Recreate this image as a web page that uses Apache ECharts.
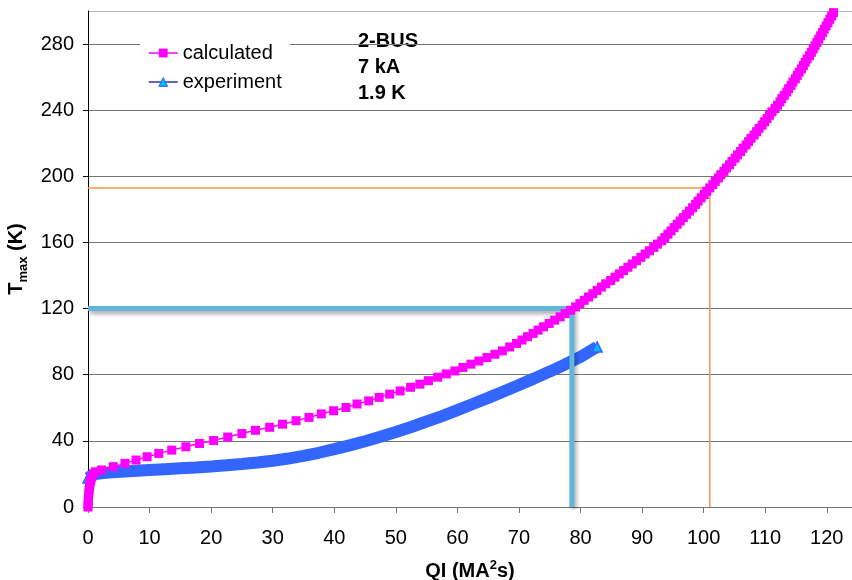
<!DOCTYPE html>
<html>
<head>
<meta charset="utf-8">
<title>2-BUS Tmax vs QI</title>
<script src="https://cdn.jsdelivr.net/npm/echarts@6.0.0/dist/echarts.min.js"></script>
<style>
  html, body { margin: 0; padding: 0; background: #fff; }
  #main { width: 852px; height: 580px; }
</style>
</head>
<body>
<div id="main"></div>
<script>
// calculated curve (QI in MA^2s, Tmax in K)
var calcQI = [0, 0.02, 0.05, 0.08, 0.12, 0.17, 0.24, 0.33, 0.45, 0.62, 0.85, 1.2, 2.2,
  4.1, 6.0, 7.8, 9.6, 11.5, 13.6, 15.9, 18.1, 20.4, 22.7, 25.0, 27.2, 29.5, 31.6, 33.8,
  35.9, 37.9, 39.9, 41.9, 43.7, 45.6, 47.3, 49.0, 50.7, 52.4, 53.9, 55.3, 56.8, 58.2,
  59.6, 60.9, 62.2, 63.5, 64.8, 66.1, 67.3, 68.5, 69.6,
  70.5, 71.4, 72.3, 73.1, 74.0, 74.9, 75.8, 76.7, 77.5, 78.4,
  79.2, 79.9, 80.6, 81.3, 82.0, 82.7, 83.4, 84.1, 84.9, 85.6,
  86.3, 87.0, 87.7, 88.4, 89.1, 89.8, 90.5, 91.2, 91.9, 92.5,
  93.2, 93.7, 94.2, 94.7, 95.2, 95.7, 96.2, 96.7, 97.2, 97.7,
  98.2, 98.7, 99.1, 99.6, 100.1, 100.5, 101.0, 101.5, 101.9, 102.4,
  102.8, 103.3, 103.7, 104.2, 104.6, 105.1, 105.5, 106.0, 106.4, 106.9,
  107.3, 107.7, 108.2, 108.6, 109.0, 109.5, 109.9, 110.3, 110.7, 111.1,
  111.6, 112.0, 112.4, 112.7, 113.1, 113.5, 113.8, 114.2, 114.5, 114.9,
  115.2, 115.5, 115.9, 116.2, 116.5, 116.8, 117.2, 117.5, 117.8, 118.1,
  118.4, 118.7, 119.0, 119.3, 119.6, 119.9, 120.2, 120.5, 120.8, 121.1];
var calcT = [0, 2, 4, 6, 8, 10, 12, 14, 16, 18, 20, 21.3, 22.4,
  24.4, 26.4, 28.4, 30.4, 32.4, 34.4, 36.4, 38.4, 40.2, 42.3, 44.4, 46.4, 48.2, 50.1, 52.2,
  54.2, 56.3, 58.2, 60.2, 62.3, 64.2, 66.3, 68.3, 70.2, 72.4, 74.3, 76.4, 78.5, 80.5,
  82.3, 84.4, 86.4, 88.3, 90.4, 92.4, 94.4, 96.8, 98.9,
  101, 103, 105, 107, 109, 111, 113, 115, 117, 119,
  121, 123, 125, 127, 129, 131, 133, 135, 137, 139,
  141, 143, 145, 147, 149, 151, 153, 155, 157, 159,
  161, 163, 165, 167, 169, 171, 173, 175, 177, 179,
  181, 183, 185, 187, 189, 191, 193, 195, 197, 199,
  201, 203, 205, 207, 209, 211, 213, 215, 217, 219,
  221, 223, 225, 227, 229, 231, 233, 235, 237, 239,
  241, 243, 245, 247, 249, 251, 253, 255, 257, 259,
  261, 263, 265, 267, 269, 271, 273, 275, 277, 279,
  281, 283, 285, 287, 289, 291, 293, 295, 297, 299];

// experiment curve
var expQI = [0, 0.3, 0.8, 1.5, 2.5, 4, 6, 8, 10, 12.5, 15, 17.5, 20, 22.5, 25, 27.5, 30,
  32.5, 35, 37.5, 40, 42.5, 45, 47.5, 50, 52.5, 55, 57.5, 60, 62.5, 65, 67.5, 70, 72.5,
  75, 77.5, 80, 82.7];
var expT = [17.5, 18.6, 19.5, 20.1, 20.6, 21.0, 21.5, 21.9, 22.4, 22.9, 23.4, 23.9, 24.5,
  25.2, 26.0, 26.9, 28.0, 29.3, 30.9, 32.8, 35.0, 37.3, 39.8, 42.5, 45.4, 48.4, 51.7,
  55.0, 58.6, 62.3, 66.0, 69.9, 73.8, 77.8, 81.9, 86.2, 90.8, 96.8];

// guide lines
var guide120QI = [0, 78.6, 78.6];
var guide120T = [120, 120, 0];
var guide193QI = [0, 101, 101];
var guide193T = [193, 193, 0];

var yTicks = [0, 40, 80, 120, 160, 200, 240, 280];
var noteLines = ['2-BUS', '7 kA', '1.9 K'];

function pairs(xs, ys) {
  var out = [];
  for (var i = 0; i < xs.length; i++) {
    out.push([xs[i], ys[i]]);
  }
  return out;
}

var font = '"Liberation Sans", Arial, sans-serif';
var chart = echarts.init(document.getElementById('main'));
chart.setOption({
  animation: false,
  backgroundColor: '#fff',
  textStyle: { fontFamily: font },
  grid: { left: 88, right: 0, top: 11, bottom: 73, containLabel: false, outerBoundsMode: 'none' },
  legend: {
    orient: 'vertical',
    left: 140,
    top: 38,
    padding: [5, 8, 5, 8],
    backgroundColor: '#fff',
    itemWidth: 29,
    itemHeight: 11,
    itemGap: 9,
    textStyle: { fontSize: 20, color: '#000', fontFamily: font },
    data: [
      {
        name: 'calculated',
        itemStyle: { color: '#FF00FF', borderWidth: 0 },
        lineStyle: { color: '#FF00FF', width: 1.5 }
      },
      {
        name: 'experiment',
        itemStyle: { color: '#00B8F0', borderColor: '#3366FF', borderWidth: 1 },
        lineStyle: { color: '#333399', width: 1.5 }
      }
    ]
  },
  xAxis: {
    type: 'value',
    min: 0,
    max: 124.1,
    interval: 10,
    name: '{b|QI (MA}{sup|2}{b|s)}',
    nameLocation: 'middle',
    nameGap: 52,
    nameTextStyle: {
      rich: {
        b: { fontSize: 20, fontWeight: 'bold', fontFamily: font, color: '#000', lineHeight: 24 },
        sup: { fontSize: 13, fontWeight: 'bold', fontFamily: font, color: '#000', verticalAlign: 'top', lineHeight: 24 }
      }
    },
    axisLine: { show: true, onZero: false, lineStyle: { color: '#737373', width: 1 } },
    axisTick: { show: true, inside: false, length: 6, lineStyle: { color: '#737373' } },
    axisLabel: { showMaxLabel: false, margin: 21, fontSize: 20, color: '#000', fontFamily: font },
    splitLine: { show: false }
  },
  yAxis: {
    type: 'value',
    min: 0,
    max: 300,
    interval: 40,
    name: '{b|T}{s|max}{b| (K)}',
    nameLocation: 'middle',
    nameRotate: 90,
    nameGap: 46,
    nameTextStyle: {
      rich: {
        b: { fontSize: 20, fontWeight: 'bold', fontFamily: font, color: '#000', lineHeight: 26 },
        s: { fontSize: 13, fontWeight: 'bold', fontFamily: font, color: '#000', verticalAlign: 'bottom', lineHeight: 26 }
      }
    },
    axisLine: { show: true, lineStyle: { color: '#000', width: 1 } },
    axisTick: { show: true, inside: false, length: 5, lineStyle: { color: '#000' } },
    axisLabel: {
      showMaxLabel: false,
      margin: 14,
      fontSize: 20,
      color: '#000',
      fontFamily: font,
      formatter: function (v) { return yTicks.indexOf(v) >= 0 ? String(v) : ''; }
    },
    splitLine: {
      show: true,
      lineStyle: {
        color: ['#737373', '#737373', '#737373', '#737373', '#737373', '#737373', '#737373', '#737373', '#b8b8b8'],
        width: 1
      }
    }
  },
  graphic: [
    {
      type: 'group',
      left: 355,
      top: 28,
      z: 100,
      children: [
        { type: 'rect', shape: { x: 0, y: 0, width: 93, height: 87 }, style: { fill: '#fff' } },
        {
          type: 'text',
          x: 3,
          y: 0,
          style: {
            text: noteLines.join('\n'),
            font: 'bold 20px ' + font,
            fill: '#000',
            lineHeight: 26
          }
        }
      ]
    }
  ],
  series: [
    {
      name: 'experiment',
      type: 'line',
      data: pairs(expQI, expT),
      symbol: 'triangle',
      symbolSize: function (v, p) {
        return (p.dataIndex === 0 || p.dataIndex === expQI.length - 1) ? 10 : 0;
      },
      itemStyle: { color: '#00B8F0', borderColor: '#3366FF', borderWidth: 1.5 },
      lineStyle: { color: '#3366FF', width: 12 },
      z: 2
    },
    {
      name: 'guide120',
      type: 'line',
      data: pairs(guide120QI, guide120T),
      symbol: 'none',
      silent: true,
      lineStyle: {
        color: '#62B6D8',
        width: 5,
        shadowColor: 'rgba(0,0,0,0.35)',
        shadowBlur: 4,
        shadowOffsetX: 2,
        shadowOffsetY: 3
      },
      z: 3
    },
    {
      name: 'guide193',
      type: 'line',
      data: pairs(guide193QI, guide193T),
      symbol: 'none',
      silent: true,
      lineStyle: { color: '#F79646', width: 1.5 },
      z: 3
    },
    {
      name: 'calculated',
      type: 'line',
      data: pairs(calcQI, calcT),
      symbol: 'rect',
      symbolSize: 9,
      itemStyle: { color: '#FF00FF' },
      lineStyle: { color: '#FF00FF', width: 1.5 },
      z: 4
    }
  ]
});
</script>
</body>
</html>
